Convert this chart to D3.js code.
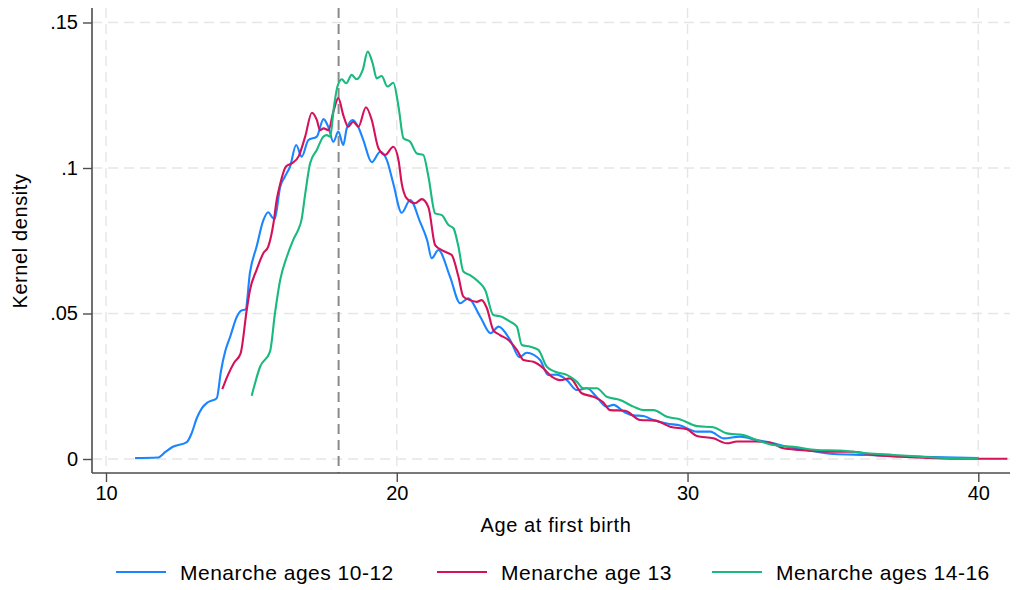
<!DOCTYPE html>
<html>
<head>
<meta charset="utf-8">
<script src="https://cdn.jsdelivr.net/npm/d3@7/dist/d3.min.js"></script>
<style>
  html, body { margin: 0; padding: 0; background: #ffffff; }
  svg { display: block; font-family: "Liberation Sans", Arial, sans-serif; }
</style>
</head>
<body>
<svg id="chart" width="1016" height="590"></svg>
<script>
// Kernel density of age at first birth, by age at menarche
const seriesNames = ["Menarche ages 10-12", "Menarche age 13", "Menarche ages 14-16"];
const seriesColors = ["#1a85ff", "#d41159", "#1ab97e"];

const agesEarly = [11.0, 11.78, 12.05, 12.3, 12.78, 12.95, 13.12, 13.3, 13.5, 13.81, 13.95, 14.1, 14.27, 14.5, 14.65, 14.8,
  14.95, 15.18, 15.41, 15.58, 15.72, 15.8, 15.99, 16.15, 16.33, 16.54, 16.73, 16.96, 17.25, 17.48, 17.65, 17.82, 17.99,
  18.16, 18.28, 18.49, 18.68, 18.85, 19.14, 19.43, 19.66, 19.88, 20.17, 20.46, 20.8, 21.05, 21.2, 21.43, 21.83, 22.18,
  22.46, 22.87, 23.23, 23.5, 23.9, 24.22, 24.47, 24.93, 25.2, 25.5, 25.85, 26.19, 26.54, 26.9, 27.22, 27.45, 27.85,
  28.14, 28.48, 28.8, 29.29, 29.75, 30.32, 30.78, 31.24, 31.81, 32.38, 32.96, 33.41, 34.1, 35.02, 36.16, 37.31, 38.46, 40.0];
const densityEarly = [0.0003, 0.0005, 0.0025, 0.0042, 0.0058, 0.009, 0.014, 0.0175, 0.0195, 0.0209, 0.03, 0.037, 0.042, 0.0489, 0.051, 0.0514,
  0.064, 0.073, 0.082, 0.0848, 0.083, 0.0825, 0.0935, 0.097, 0.1005, 0.1079, 0.1039, 0.1096, 0.1108, 0.1168, 0.114, 0.109, 0.1125,
  0.1079, 0.1136, 0.1165, 0.114, 0.1096, 0.102, 0.1056, 0.1027, 0.0947, 0.0846, 0.089, 0.0815, 0.075, 0.069, 0.0718, 0.0627, 0.0535,
  0.0552, 0.0489, 0.0432, 0.0455, 0.0409, 0.035, 0.0365, 0.034, 0.0289, 0.029, 0.0271, 0.0237, 0.0243, 0.021, 0.018, 0.0186, 0.016,
  0.015, 0.0148, 0.0135, 0.0122, 0.0115, 0.0094, 0.0094, 0.0071, 0.0077, 0.0065, 0.0054, 0.0042, 0.0031, 0.0017, 0.0014, 0.001, 0.0007, 0.0003];

const agesMid = [14.0, 14.2, 14.4, 14.63, 14.84, 14.95, 15.18, 15.41, 15.58, 15.76, 15.87, 15.99, 16.19, 16.39, 16.62, 16.85,
  17.08, 17.25, 17.36, 17.48, 17.65, 17.82, 17.99, 18.16, 18.33, 18.5, 18.68, 18.94, 19.14, 19.37, 19.6, 19.88, 20.06,
  20.17, 20.34, 20.63, 20.86, 21.09, 21.32, 21.55, 21.78, 21.89, 22.12, 22.29, 22.52, 22.75, 22.92, 23.1, 23.32, 23.55,
  23.84, 24.13, 24.36, 24.7, 25.04, 25.33, 25.62, 25.96, 26.36, 26.76, 27.1, 27.34, 27.85, 28.37, 28.89, 29.4, 29.98,
  30.32, 30.89, 31.35, 31.7, 32.38, 32.84, 33.3, 33.87, 34.79, 35.71, 36.4, 37.31, 38.46, 39.6, 41.0];
const densityMid = [0.024, 0.029, 0.033, 0.0363, 0.0512, 0.058, 0.065, 0.0707, 0.073, 0.081, 0.089, 0.0945, 0.1005, 0.1016, 0.1039, 0.1108,
  0.119, 0.1165, 0.113, 0.1136, 0.113, 0.1194, 0.124, 0.1182, 0.1142, 0.1159, 0.1142, 0.1209, 0.1165, 0.1068, 0.1045, 0.1073, 0.1027,
  0.0947, 0.0896, 0.0879, 0.0893, 0.0865, 0.0735, 0.0718, 0.0707, 0.0701, 0.0627, 0.0558, 0.0546, 0.054, 0.0546, 0.0518, 0.0443, 0.0426,
  0.0409, 0.0375, 0.034, 0.0334, 0.0312, 0.0283, 0.0271, 0.0277, 0.0226, 0.0214, 0.0195, 0.0168, 0.0166, 0.0134, 0.0132, 0.0111, 0.0102,
  0.0079, 0.0071, 0.0054, 0.006, 0.006, 0.0056, 0.0037, 0.0031, 0.0025, 0.0025, 0.0014, 0.0008, 0.0003, 0.0001, 0.0001];

const agesLate = [15.01, 15.3, 15.64, 15.81, 15.99, 16.22, 16.44, 16.62, 16.72, 16.85, 17.02, 17.25, 17.48, 17.59, 17.71, 17.84,
  17.96, 18.11, 18.26, 18.45, 18.62, 18.83, 19.0, 19.17, 19.31, 19.48, 19.68, 19.88, 20.06, 20.23, 20.46, 20.69, 20.91,
  21.09, 21.32, 21.55, 21.78, 21.95, 22.12, 22.29, 22.52, 22.81, 23.04, 23.32, 23.61, 23.9, 24.13, 24.3, 24.59, 24.87,
  25.16, 25.45, 25.85, 26.19, 26.42, 26.88, 27.22, 27.68, 28.14, 28.48, 28.83, 29.29, 29.75, 30.32, 30.89, 31.35, 31.92,
  32.38, 32.96, 33.65, 34.45, 35.25, 36.16, 37.08, 38.0, 39.03, 40.0];
const densityLate = [0.0217, 0.0317, 0.0369, 0.05, 0.0615, 0.0695, 0.0753, 0.079, 0.082, 0.091, 0.1016, 0.1062, 0.1108, 0.1113, 0.1108, 0.1211,
  0.128, 0.1305, 0.1291, 0.132, 0.1305, 0.1337, 0.14, 0.136, 0.1308, 0.1316, 0.128, 0.1293, 0.1211, 0.1102, 0.109, 0.105, 0.1045,
  0.097, 0.0844, 0.0838, 0.0804, 0.0793, 0.073, 0.0644, 0.0632, 0.0609, 0.0581, 0.0495, 0.0489, 0.0472, 0.0455, 0.0392, 0.0386, 0.0375,
  0.0317, 0.03, 0.0289, 0.0266, 0.0243, 0.0243, 0.0214, 0.0203, 0.018, 0.0168, 0.0168, 0.0145, 0.0136, 0.0113, 0.0109, 0.0088, 0.0082,
  0.0065, 0.0048, 0.0042, 0.0031, 0.0029, 0.002, 0.0014, 0.0008, 0.0003, 0.0002];

const xTicks = [10, 20, 30, 40];
const yTicks = [0, 0.05, 0.1, 0.15];
const yTickLabels = ["0", ".05", ".1", ".15"];
const referenceAge = 18;

const svg = d3.select("#chart");
const plot = { left: 92, right: 1010, top: 8, bottom: 473 };

const x = d3.scaleLinear().domain([10, 40]).range([106, 978.3]);
const y = d3.scaleLinear().domain([0, 0.15]).range([459, 22.5]);

// grid
const grid = svg.append("g").attr("stroke", "#e6e6e6").attr("stroke-width", 1.4).attr("stroke-dasharray", "10,6");
grid.selectAll("line.h").data(yTicks).join("line").attr("class", "h")
  .attr("x1", plot.left).attr("x2", plot.right)
  .attr("y1", d => y(d)).attr("y2", d => y(d));
grid.selectAll("line.v").data(xTicks).join("line").attr("class", "v")
  .attr("y1", plot.top).attr("y2", plot.bottom)
  .attr("x1", d => x(d)).attr("x2", d => x(d));

// reference line at age 18
svg.append("line")
  .attr("x1", x(referenceAge)).attr("x2", x(referenceAge))
  .attr("y1", plot.top).attr("y2", plot.bottom)
  .attr("stroke", "#8a8a8a").attr("stroke-width", 2).attr("stroke-dasharray", "10,6");

// density curves
const series = [
  { name: seriesNames[0], color: seriesColors[0], ages: agesEarly, dens: densityEarly },
  { name: seriesNames[1], color: seriesColors[1], ages: agesMid, dens: densityMid },
  { name: seriesNames[2], color: seriesColors[2], ages: agesLate, dens: densityLate }
];
const line = d3.line().x(d => x(d[0])).y(d => y(d[1])).curve(d3.curveMonotoneX);
svg.append("g").selectAll("path").data(series).join("path")
  .attr("fill", "none")
  .attr("stroke", d => d.color)
  .attr("stroke-width", 2.1)
  .attr("stroke-linejoin", "round")
  .attr("d", d => line(d.ages.map((a, i) => [a, d.dens[i]])));

// axes
const xAxis = d3.axisBottom(x).tickValues(xTicks).tickFormat(d3.format("d")).tickSize(9).tickPadding(4).tickSizeOuter(0);
const gx = svg.append("g").attr("transform", `translate(0,${plot.bottom})`).call(xAxis);
gx.select(".domain").remove();
gx.selectAll(".tick line").attr("stroke", "#4d4d4d").attr("stroke-width", 1.4);
gx.selectAll(".tick text").attr("fill", "#000").attr("font-size", 20).attr("font-family", "Liberation Sans, Arial, sans-serif");

const yAxis = d3.axisLeft(y).tickValues(yTicks).tickFormat((d, i) => yTickLabels[i]).tickSize(9).tickPadding(5).tickSizeOuter(0);
const gy = svg.append("g").attr("transform", `translate(${plot.left},0)`).call(yAxis);
gy.select(".domain").remove();
gy.selectAll(".tick line").attr("stroke", "#4d4d4d").attr("stroke-width", 1.4);
gy.selectAll(".tick text").attr("fill", "#000").attr("font-size", 20).attr("font-family", "Liberation Sans, Arial, sans-serif");

svg.append("line").attr("x1", plot.left).attr("x2", plot.right).attr("y1", plot.bottom).attr("y2", plot.bottom)
  .attr("stroke", "#4d4d4d").attr("stroke-width", 1.6);
svg.append("line").attr("x1", plot.left).attr("x2", plot.left).attr("y1", plot.top).attr("y2", plot.bottom)
  .attr("stroke", "#4d4d4d").attr("stroke-width", 1.6);

// axis titles
svg.append("text").attr("x", 556).attr("y", 532).attr("text-anchor", "middle")
  .attr("font-size", 20).attr("letter-spacing", 0.6).text("Age at first birth");
svg.append("text").attr("transform", "translate(27,241) rotate(-90)").attr("text-anchor", "middle")
  .attr("font-size", 20).attr("letter-spacing", 0.6).text("Kernel density");

// legend
const legendX = [116, 437, 712];
const lg = svg.append("g").selectAll("g").data(series).join("g")
  .attr("transform", (d, i) => `translate(${legendX[i]},572)`);
lg.append("line").attr("x1", 0).attr("x2", 50).attr("stroke", d => d.color).attr("stroke-width", 2.2);
lg.append("text").attr("x", 64).attr("y", 8).attr("font-size", 21).attr("letter-spacing", 0.5).text(d => d.name);
</script>
</body>
</html>
